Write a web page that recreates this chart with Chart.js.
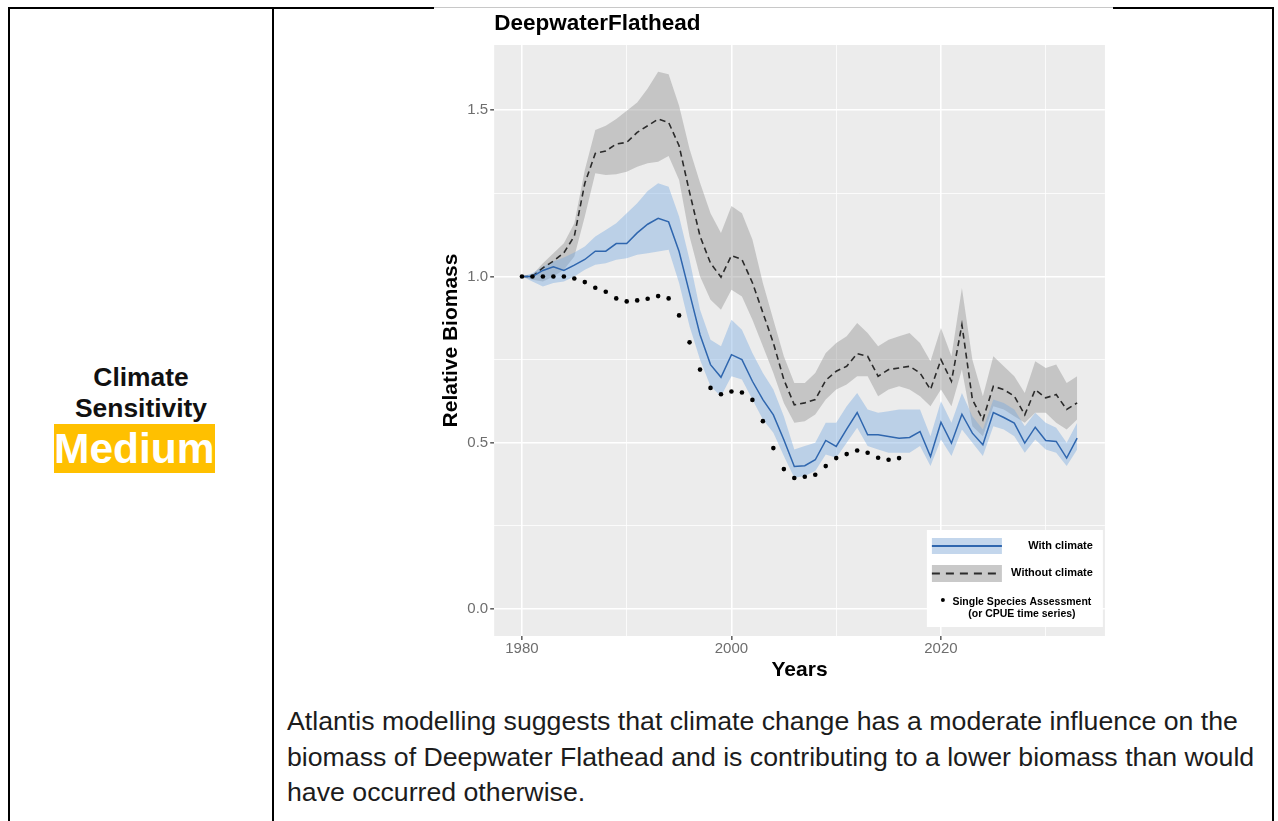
<!DOCTYPE html>
<html>
<head>
<meta charset="utf-8">
<script src="https://cdn.jsdelivr.net/npm/chart.js@4.4.1/dist/chart.umd.min.js"></script>
<style>
  body { margin: 0; width: 1278px; height: 821px; background: #fff; position: relative; overflow: hidden;
         font-family: "Liberation Sans", Arial, sans-serif; color: #111; }
  .rule { position: absolute; background: #000; }
  .label { position: absolute; left: 10px; width: 262px; top: 362px; text-align: center;
           font-weight: bold; font-size: 26.4px; line-height: 31px; }
  .rating { position: absolute; left: 54px; top: 424px; }
  .rating span { display: inline-block; background: #ffc000; color: #fff; font-weight: bold;
                 font-size: 42.5px; line-height: 49px; }
  .note { position: absolute; left: 287px; top: 704px; font-size: 26.7px; line-height: 35.5px;
          white-space: nowrap; color: #1c1c1c; }
  #wrap { position: absolute; left: 433px; top: 9px; width: 680px; height: 690px; }
</style>
</head>
<body>
<!-- table rules -->
<div class="rule" style="left:8px;top:7px;width:426px;height:2px"></div>
<div class="rule" style="left:434px;top:7px;width:679px;height:1px;background:#c8c8c8"></div>
<div class="rule" style="left:1113px;top:7px;width:161px;height:2px"></div>
<div class="rule" style="left:8px;top:7px;width:2px;height:814px"></div>
<div class="rule" style="left:272px;top:7px;width:2px;height:814px"></div>
<div class="rule" style="left:1272px;top:7px;width:2px;height:814px"></div>

<div class="label">Climate<br>Sensitivity</div>
<div class="rating"><span>Medium</span></div>

<div id="wrap"><canvas id="chart" width="680" height="690"></canvas></div>

<div class="note">Atlantis modelling suggests that climate change has a moderate influence on the<br>biomass of Deepwater Flathead and is contributing to a lower biomass than would<br>have occurred otherwise.</div>

<script>
// ---- data ----
const years = [1980, 1981, 1982, 1983, 1984, 1985, 1986, 1987, 1988, 1989,
  1990, 1991, 1992, 1993, 1994, 1995, 1996, 1997, 1998, 1999,
  2000, 2001, 2002, 2003, 2004, 2005, 2006, 2007, 2008, 2009,
  2010, 2011, 2012, 2013, 2014, 2015, 2016, 2017, 2018, 2019,
  2020, 2021, 2022, 2023, 2024, 2025, 2026, 2027, 2028, 2029,
  2030, 2031, 2032, 2033];

const withClimate = [1.000, 1.000, 1.018, 1.029, 1.018, 1.034, 1.051, 1.076, 1.076, 1.099,
  1.099, 1.131, 1.157, 1.175, 1.164, 1.075, 0.950, 0.825, 0.735, 0.697,
  0.765, 0.750, 0.685, 0.630, 0.584, 0.509, 0.429, 0.431, 0.449, 0.507,
  0.489, 0.541, 0.591, 0.524, 0.524, 0.519, 0.514, 0.516, 0.534, 0.459,
  0.562, 0.499, 0.586, 0.529, 0.494, 0.591, 0.576, 0.559, 0.499, 0.547,
  0.507, 0.504, 0.454, 0.514];
const withClimateHigh = [1.000, 1.010, 1.030, 1.045, 1.057, 1.072, 1.090, 1.120, 1.140, 1.160,
  1.190, 1.220, 1.257, 1.280, 1.270, 1.180, 1.050, 0.900, 0.810, 0.790,
  0.870, 0.840, 0.770, 0.710, 0.660, 0.580, 0.480, 0.490, 0.500, 0.560,
  0.560, 0.610, 0.650, 0.600, 0.590, 0.595, 0.600, 0.600, 0.600, 0.520,
  0.625, 0.560, 0.650, 0.580, 0.540, 0.630, 0.620, 0.600, 0.550, 0.590,
  0.560, 0.545, 0.500, 0.560];
const withClimateLow = [1.000, 0.985, 0.970, 0.980, 0.985, 1.000, 1.020, 1.035, 1.040, 1.050,
  1.055, 1.065, 1.070, 1.075, 1.080, 0.980, 0.850, 0.750, 0.670, 0.640,
  0.700, 0.690, 0.630, 0.570, 0.530, 0.460, 0.395, 0.400, 0.415, 0.465,
  0.455, 0.500, 0.545, 0.490, 0.480, 0.470, 0.470, 0.470, 0.490, 0.430,
  0.510, 0.460, 0.540, 0.500, 0.460, 0.550, 0.540, 0.520, 0.470, 0.510,
  0.480, 0.470, 0.430, 0.480];

const withoutClimate = [1.000, 1.000, 1.026, 1.046, 1.071, 1.121, 1.280, 1.370, 1.377, 1.398,
  1.403, 1.433, 1.453, 1.473, 1.463, 1.393, 1.253, 1.121, 1.040, 0.998,
  1.063, 1.051, 0.981, 0.891, 0.800, 0.690, 0.614, 0.620, 0.630, 0.688,
  0.715, 0.730, 0.768, 0.760, 0.700, 0.720, 0.725, 0.730, 0.710, 0.660,
  0.750, 0.685, 0.855, 0.630, 0.569, 0.670, 0.660, 0.640, 0.584, 0.660,
  0.635, 0.645, 0.600, 0.620];
const withoutClimateHigh = [1.000, 1.005, 1.040, 1.070, 1.100, 1.160, 1.320, 1.440, 1.453, 1.473,
  1.498, 1.523, 1.565, 1.615, 1.608, 1.513, 1.383, 1.282, 1.190, 1.131,
  1.212, 1.190, 1.111, 0.980, 0.870, 0.760, 0.680, 0.680, 0.710, 0.770,
  0.800, 0.820, 0.860, 0.830, 0.790, 0.810, 0.820, 0.830, 0.800, 0.745,
  0.845, 0.760, 0.965, 0.750, 0.640, 0.760, 0.730, 0.700, 0.650, 0.745,
  0.725, 0.735, 0.680, 0.700];
const withoutClimateLow = [1.000, 0.990, 0.985, 1.000, 1.020, 1.060, 1.180, 1.310, 1.305, 1.307,
  1.315, 1.330, 1.340, 1.345, 1.362, 1.290, 1.120, 1.000, 0.930, 0.900,
  0.960, 0.940, 0.870, 0.790, 0.710, 0.620, 0.560, 0.565, 0.585, 0.630,
  0.660, 0.675, 0.700, 0.700, 0.640, 0.660, 0.670, 0.660, 0.640, 0.610,
  0.660, 0.610, 0.720, 0.550, 0.520, 0.610, 0.600, 0.580, 0.560, 0.590,
  0.590, 0.560, 0.540, 0.570];

// single species assessment runs 1980-2016
const assessment = [1.000, 1.000, 1.000, 1.000, 1.000, 0.994, 0.983, 0.966, 0.954, 0.934,
  0.925, 0.928, 0.933, 0.941, 0.934, 0.883, 0.802, 0.720, 0.665, 0.646,
  0.654, 0.651, 0.629, 0.565, 0.484, 0.421, 0.394, 0.398, 0.404, 0.430,
  0.454, 0.466, 0.477, 0.470, 0.455, 0.449, 0.454];

const xTicks = [1980, 1990, 2000, 2010, 2020, 2030];
const xLabelled = [1980, 2000, 2020];
const yTicks = [0, 0.25, 0.5, 0.75, 1, 1.25, 1.5];
const yLabelled = [0, 0.5, 1, 1.5];
const legendLabels = ['With climate', 'Without climate', 'Single Species Assessment', '(or CPUE time series)'];

// ---- colours ----
const BLUE = '#2f66ae';
const BLUE_BAND = 'rgba(120,170,225,0.42)';
const GREY_BAND = 'rgba(150,150,150,0.45)';
const DASH = '#2b2b2b';
const PANEL = '#ececec';

const pts = vals => vals.map((v, i) => ({ x: years[i], y: v }));

// ggplot-style 5% expansion of the data range (y includes 0)
const xSpan = years[years.length - 1] - years[0];
const yTop = Math.max(...withoutClimateHigh);
const xMin = years[0] - 0.05 * xSpan, xMax = years[years.length - 1] + 0.05 * xSpan;
const yMin = -0.05 * yTop, yMax = yTop * 1.05;

Chart.defaults.font.family = "'Liberation Sans', Arial, sans-serif";

const panelBg = {
  id: 'panelBg',
  beforeDraw(chart) {
    const { ctx, chartArea: a } = chart;
    ctx.save();
    ctx.fillStyle = PANEL;
    ctx.fillRect(a.left, a.top, a.width, a.height);
    ctx.restore();
  }
};

// legend box drawn inside the panel, bottom right, like the ggplot one
const insetLegend = {
  id: 'insetLegend',
  afterDatasetsDraw(chart) {
    const { ctx, chartArea: a } = chart;
    const bx = a.right - 178, by = a.bottom - 106;
    ctx.save();
    ctx.fillStyle = '#fff';
    ctx.fillRect(bx, by, 176, 97);

    // with climate key
    ctx.fillStyle = '#c3d6ec';
    ctx.fillRect(bx + 5, by + 8, 70, 16);
    ctx.strokeStyle = BLUE; ctx.lineWidth = 2;
    ctx.beginPath(); ctx.moveTo(bx + 5, by + 16); ctx.lineTo(bx + 75, by + 16); ctx.stroke();

    // without climate key
    ctx.fillStyle = '#c9c9c9';
    ctx.fillRect(bx + 5, by + 35, 70, 17);
    ctx.strokeStyle = DASH; ctx.lineWidth = 2; ctx.setLineDash([8, 6]);
    ctx.beginPath(); ctx.moveTo(bx + 5, by + 43.5); ctx.lineTo(bx + 75, by + 43.5); ctx.stroke();
    ctx.setLineDash([]);

    // assessment key
    ctx.fillStyle = '#000';
    ctx.beginPath(); ctx.arc(bx + 16, by + 70, 2, 0, Math.PI * 2); ctx.fill();

    ctx.font = "bold 11px 'Liberation Sans', Arial, sans-serif";
    ctx.textBaseline = 'middle';
    ctx.textAlign = 'right';
    ctx.fillText(legendLabels[0], bx + 166, by + 16);
    ctx.fillText(legendLabels[1], bx + 166, by + 43);
    ctx.font = "bold 10.5px 'Liberation Sans', Arial, sans-serif";
    ctx.textAlign = 'center';
    ctx.fillText(legendLabels[2], bx + 95, by + 72);
    ctx.fillText(legendLabels[3], bx + 95, by + 84);
    ctx.restore();
  }
};

const major = (list) => c => (c.tick && list.includes(c.tick.value));

new Chart(document.getElementById('chart'), {
  type: 'line',
  data: {
    datasets: [
      { label: 'Single Species Assessment', data: pts(assessment), showLine: false,
        pointRadius: 2.3, pointBackgroundColor: '#000', pointBorderWidth: 0, order: 0 },
      { label: 'With climate', data: pts(withClimate), borderColor: BLUE, borderWidth: 1.5,
        pointRadius: 0, fill: false, order: 1 },
      { label: 'Without climate', data: pts(withoutClimate), borderColor: DASH, borderWidth: 1.6,
        borderDash: [6, 4], pointRadius: 0, fill: false, order: 2 },
      { label: 'with high', data: pts(withClimateHigh), borderColor: 'transparent', borderWidth: 0,
        backgroundColor: BLUE_BAND, pointRadius: 0, fill: '+1', order: 3 },
      { label: 'with low', data: pts(withClimateLow), borderColor: 'transparent', borderWidth: 0,
        pointRadius: 0, fill: false, order: 3 },
      { label: 'without high', data: pts(withoutClimateHigh), borderColor: 'transparent', borderWidth: 0,
        backgroundColor: GREY_BAND, pointRadius: 0, fill: '+1', order: 5 },
      { label: 'without low', data: pts(withoutClimateLow), borderColor: 'transparent', borderWidth: 0,
        pointRadius: 0, fill: false, order: 5 }
    ]
  },
  options: {
    responsive: false,
    animation: false,
    devicePixelRatio: 1,
    layout: { padding: { left: 0, right: 8.1, top: 0, bottom: 0 } },
    plugins: {
      legend: { display: false },
      tooltip: { enabled: false },
      title: {
        display: true, text: 'DeepwaterFlathead', align: 'start', fullSize: false,
        color: '#000', font: { size: 22.5, weight: 'bold' }, padding: { top: 1.5, bottom: 7.5 }
      }
    },
    scales: {
      x: {
        type: 'linear', min: xMin, max: xMax,
        afterBuildTicks: s => { s.ticks = xTicks.map(v => ({ value: v })); },
        afterFit: s => { s.height = 63; },
        border: { display: false },
        grid: {
          color: '#fff',
          lineWidth: c => major(xLabelled)(c) ? 1.6 : 0.8,
          tickColor: c => major(xLabelled)(c) ? '#666' : 'rgba(0,0,0,0)',
          tickLength: 4
        },
        ticks: {
          padding: 0, color: '#6e6e6e', font: { size: 15 }, maxRotation: 0, autoSkip: false,
          callback: v => xLabelled.includes(v) ? String(v) : ''
        },
        title: { display: true, text: 'Years', color: '#000', font: { size: 21, weight: 'bold' },
                 padding: { top: 0, bottom: 16.4 } }
      },
      y: {
        min: yMin, max: yMax,
        afterBuildTicks: s => { s.ticks = yTicks.map(v => ({ value: v })); },
        afterFit: s => { s.width = 61.2; },
        border: { display: false },
        grid: {
          color: '#fff',
          lineWidth: c => major(yLabelled)(c) ? 1.6 : 0.8,
          tickColor: c => major(yLabelled)(c) ? '#666' : 'rgba(0,0,0,0)',
          tickLength: 4
        },
        ticks: {
          padding: 2, color: '#6e6e6e', font: { size: 15 },
          callback: v => yLabelled.includes(v) ? v.toFixed(1) : ''
        },
        title: { display: true, text: 'Relative Biomass', color: '#000', font: { size: 21, weight: 'bold' },
                 padding: { top: 5.5, bottom: 0 } }
      }
    }
  },
  plugins: [panelBg, insetLegend]
});
</script>
</body>
</html>
